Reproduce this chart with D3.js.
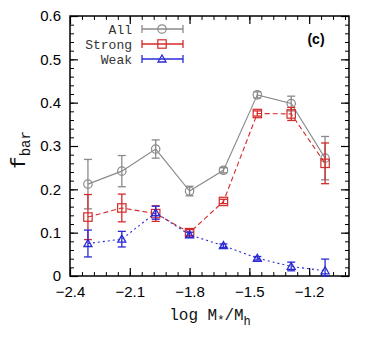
<!DOCTYPE html>
<html>
<head>
<meta charset="utf-8">
<script src="https://cdn.jsdelivr.net/npm/d3@7"></script>
<style>
  body { margin: 0; background: #fff; }
  svg { display: block; }
</style>
</head>
<body>
<div id="chart"></div>
<script>
'use strict';

// x positions of the bins (log M*/Mh)
const xBins = [-2.31, -2.14, -1.97, -1.80, -1.63, -1.46, -1.29, -1.12];

const allVals   = [0.212, 0.242, 0.293, 0.196, 0.244, 0.418, 0.398, 0.272];
const allErr    = [0.057, 0.036, 0.021, 0.011, 0.006, 0.007, 0.017, 0.050];
const strongVals = [0.136, 0.157, 0.144, 0.100, 0.172, 0.375, 0.374, 0.260];
const strongErr  = [0.052, 0.032, 0.018, 0.007, 0.005, 0.006, 0.015, 0.047];
const weakVals  = [0.075, 0.085, 0.146, 0.095, 0.070, 0.041, 0.022, 0.012];
const weakErr   = [0.031, 0.018, 0.015, 0.006, 0.004, 0.004, 0.010, 0.027];

const xTicks = [-2.4, -2.1, -1.8, -1.5, -1.2];
const yTicks = [0, 0.1, 0.2, 0.3, 0.4, 0.5, 0.6];

const series = [
    {name: 'All', vals: allVals, err: allErr, color: '#8a8a8a', dash: null, marker: 'circle'},
    {name: 'Strong', vals: strongVals, err: strongErr, color: '#d42a2a', dash: '5,3', marker: 'square'},
    {name: 'Weak', vals: weakVals, err: weakErr, color: '#2a2ad4', dash: '2,3', marker: 'triangle'}
];

const margin = {top: 16, right: 26, bottom: 63, left: 70};
const width = 375, height = 339;
const w = width - margin.left - margin.right;
const h = height - margin.top - margin.bottom;

const svg = d3.select('#chart').append('svg')
    .attr('width', width)
    .attr('height', height);

const plot = svg.append('g')
    .attr('transform', `translate(${margin.left},${margin.top})`);

const x = d3.scaleLinear().domain([-2.4, -1.0]).range([0, w]);
const y = d3.scaleLinear().domain([0, 0.6]).range([h, 0]);

const xMinor = d3.range(0, 24).map(i => -2.4 + i * 0.06).filter(v => v < -1.0);
const yMinor = d3.range(0, 31).map(i => i * 0.02);

// minor ticks, all four sides, pointing inward
function minorAxis(axisFn, scale, ticks, tx, ty) {
    plot.append('g')
        .attr('transform', `translate(${tx},${ty})`)
        .call(axisFn(scale).tickValues(ticks).tickSize(-4).tickFormat(''))
        .call(g => g.select('.domain').remove())
        .call(g => g.selectAll('line').attr('stroke', '#000').attr('stroke-width', 1));
}
minorAxis(d3.axisBottom, x, xMinor, 0, h);
minorAxis(d3.axisTop, x, xMinor, 0, 0);
minorAxis(d3.axisLeft, y, yMinor, 0, 0);
minorAxis(d3.axisRight, y, yMinor, w, 0);

// major ticks
function majorAxis(axisFn, scale, ticks, tx, ty, labels) {
    const ax = axisFn(scale).tickValues(ticks).tickSize(-8).tickPadding(9);
    if (!labels) ax.tickFormat('');
    else ax.tickFormat(d => d === 0 ? '0' : d3.format('.1f')(d).replace('-', '\u2212'));
    const g = plot.append('g')
        .attr('transform', `translate(${tx},${ty})`)
        .call(ax);
    g.select('.domain').remove();
    g.selectAll('line').attr('stroke', '#000').attr('stroke-width', 1.2);
    g.selectAll('text')
        .attr('font-family', '"Liberation Sans", Arial, sans-serif')
        .attr('font-size', 15)
        .attr('fill', '#000');
    return g;
}
majorAxis(d3.axisBottom, x, xTicks, 0, h, true).selectAll('text').attr('dy', '0.8em');
majorAxis(d3.axisTop, x, xTicks, 0, 0, false);
majorAxis(d3.axisLeft, y, yTicks, 0, 0, true);
majorAxis(d3.axisRight, y, yTicks, w, 0, false);

// frame
plot.append('rect')
    .attr('width', w).attr('height', h)
    .attr('fill', 'none').attr('stroke', '#000').attr('stroke-width', 1.5);

function drawMarker(g, type, cx, cy, color) {
    if (type === 'circle') {
        g.append('circle').attr('cx', cx).attr('cy', cy).attr('r', 4.2)
            .attr('fill', 'none').attr('stroke', color).attr('stroke-width', 1.2);
    } else if (type === 'square') {
        g.append('rect').attr('x', cx - 4.2).attr('y', cy - 4.2)
            .attr('width', 8.4).attr('height', 8.4)
            .attr('fill', 'none').attr('stroke', color).attr('stroke-width', 1.2);
    } else {
        const s = 4;
        g.append('path')
            .attr('d', `M${cx},${cy - s}L${cx + s},${cy + s * 0.75}L${cx - s},${cy + s * 0.75}Z`)
            .attr('fill', 'none').attr('stroke', color).attr('stroke-width', 1.3);
    }
}

series.forEach(s => {
    const pts = xBins.map((xv, i) => ({x: xv, y: s.vals[i], e: s.err[i]}));
    const g = plot.append('g');

    g.append('path')
        .datum(pts)
        .attr('d', d3.line().x(d => x(d.x)).y(d => y(d.y)))
        .attr('fill', 'none')
        .attr('stroke', s.color)
        .attr('stroke-width', 1.1)
        .attr('stroke-dasharray', s.dash);

    pts.forEach(p => {
        const cx = x(p.x);
        const y0 = y(Math.max(0, p.y - p.e)), y1 = y(p.y + p.e);
        g.append('line').attr('x1', cx).attr('x2', cx).attr('y1', y0).attr('y2', y1)
            .attr('stroke', s.color).attr('stroke-width', 1.3);
        [y0, y1].forEach(yy => {
            g.append('line').attr('x1', cx - 4).attr('x2', cx + 4).attr('y1', yy).attr('y2', yy)
                .attr('stroke', s.color).attr('stroke-width', 1.3);
        });
        drawMarker(g, s.marker, cx, y(p.y), s.color);
    });
});

// legend
const legend = svg.append('g');
series.forEach((s, i) => {
    const ly = 29 + i * 15;
    legend.append('text')
        .attr('x', 132).attr('y', ly)
        .attr('dy', '0.35em')
        .attr('text-anchor', 'end')
        .attr('font-family', '"Liberation Mono", "Courier New", monospace')
        .attr('font-size', 13)
        .attr('fill', '#333')
        .text(s.name);
    legend.append('line').attr('x1', 142).attr('x2', 183).attr('y1', ly).attr('y2', ly)
        .attr('stroke', s.color).attr('stroke-width', 1.3);
    [142, 183].forEach(xx => {
        legend.append('line').attr('x1', xx).attr('x2', xx).attr('y1', ly - 4).attr('y2', ly + 4)
            .attr('stroke', s.color).attr('stroke-width', 1.3);
    });
    drawMarker(legend, s.marker, 162, ly, s.color);
});

// panel label
svg.append('text')
    .attr('x', 316).attr('y', 44)
    .attr('text-anchor', 'middle')
    .attr('font-family', '"Liberation Sans", Arial, sans-serif')
    .attr('font-size', 14)
    .attr('font-weight', 'bold')
    .text('(c)');

// axis titles
const yTitle = svg.append('text')
    .attr('transform', 'translate(25,150) rotate(-90)')
    .attr('text-anchor', 'middle')
    .attr('font-family', '"Liberation Mono", "Courier New", monospace')
    .attr('font-size', 21)
    .attr('fill', '#111');
yTitle.append('tspan').text('f');
yTitle.append('tspan').attr('dy', 5).attr('font-size', 14).text('bar');

const xTitle = svg.append('text')
    .attr('x', 210).attr('y', 320)
    .attr('text-anchor', 'middle')
    .attr('font-family', '"Liberation Mono", "Courier New", monospace')
    .attr('font-size', 16)
    .attr('fill', '#111');
xTitle.append('tspan').text('log M');
xTitle.append('tspan').attr('dy', 4).attr('font-size', 12).text('*');
xTitle.append('tspan').attr('dy', -4).text('/M');
xTitle.append('tspan').attr('dy', 5).attr('font-size', 12).text('h');
</script>
</body>
</html>
